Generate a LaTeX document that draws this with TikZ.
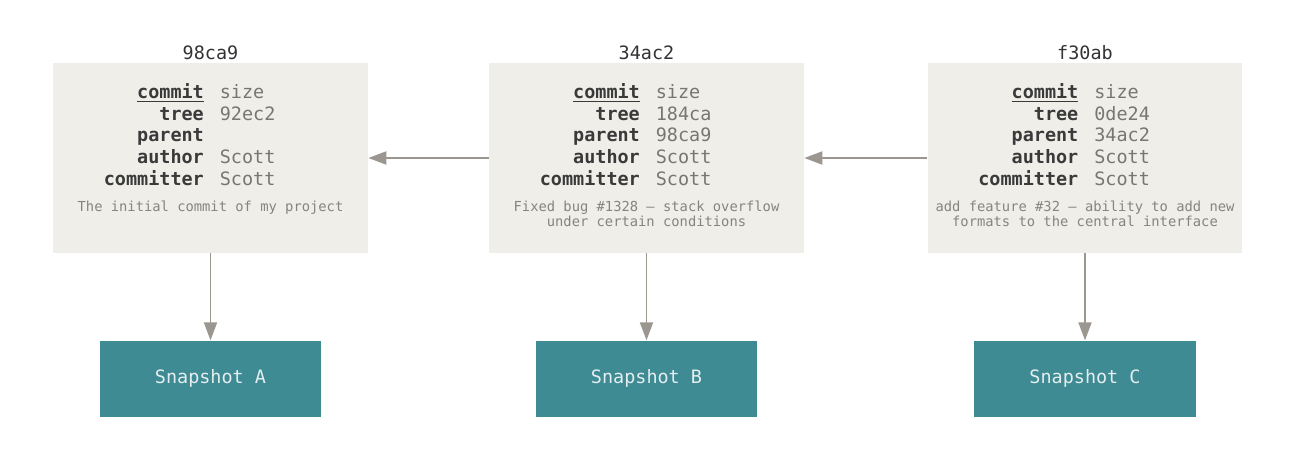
\documentclass[tikz,border=0pt]{standalone}
\usepackage{fontspec}
\setmainfont{DejaVu Sans Mono}
\usepackage{array}
\usetikzlibrary{positioning,arrows.meta}

\definecolor{boxfill}{RGB}{239,238,233}
\definecolor{snapfill}{RGB}{62,139,147}
\definecolor{snaptext}{RGB}{228,238,240}
\definecolor{arrowcol}{RGB}{155,150,144}
\definecolor{keycol}{RGB}{58,58,58}
\definecolor{valcol}{RGB}{120,118,112}
\definecolor{msgcol}{RGB}{135,132,126}
\definecolor{hashcol}{RGB}{51,51,51}

\newcolumntype{K}{>{\bfseries\color{keycol}}r}
\newcolumntype{V}{>{\color{valcol}}l}

\begin{document}
\begin{tikzpicture}[
    x=0.02cm, y=-0.02cm,
    commitbox/.style={fill=boxfill, minimum width=6.3cm, minimum height=3.8cm, inner sep=0pt},
    snapbox/.style={fill=snapfill, text=snaptext, minimum width=4.44cm, minimum height=1.52cm,
        inner sep=0pt, font=\fontsize{10.5}{12.3}\selectfont},
    hashlabel/.style={text=hashcol, inner sep=0pt, font=\fontsize{10.5}{12.3}\selectfont},
    fields/.style={inner sep=0pt, anchor=west, font=\fontsize{10.5}{12.4}\selectfont},
    message/.style={text=msgcol, inner sep=0pt, anchor=north, align=center,
        font=\fontsize{7.85}{8.5}\selectfont},
    link/.style={draw=arrowcol, line width=1.1pt, -{Triangle[length=0.36cm,width=0.26cm]}}
]
\useasboundingbox (0,0) rectangle (1308,474);

% Commits
\node[commitbox] (c1) at (210.5,158) {};
\node[commitbox] (c2) at (646.5,158) {};
\node[commitbox] (c3) at (1085,158) {};

% Hashes above the commits
\node[hashlabel, above=0.06cm of c1] (h1) {98ca9};
\node[hashlabel, above=0.06cm of c2] (h2) {34ac2};
\node[hashlabel, above=0.06cm of c3] (h3) {f30ab};

% Fields of each commit
\node[fields] (f1) at ([xshift=-2.14cm,yshift=0.41cm]c1.center)
    {\begin{tabular}{@{}K@{\hspace{0.32cm}}V@{}}
     \underline{commit} & size\\ tree & 92ec2\\ parent & \\ author & Scott\\ committer & Scott
     \end{tabular}};
\node[fields] (f2) at ([xshift=-2.14cm,yshift=0.41cm]c2.center)
    {\begin{tabular}{@{}K@{\hspace{0.32cm}}V@{}}
     \underline{commit} & size\\ tree & 184ca\\ parent & 98ca9\\ author & Scott\\ committer & Scott
     \end{tabular}};
\node[fields] (f3) at ([xshift=-2.14cm,yshift=0.41cm]c3.center)
    {\begin{tabular}{@{}K@{\hspace{0.32cm}}V@{}}
     \underline{commit} & size\\ tree & 0de24\\ parent & 34ac2\\ author & Scott\\ committer & Scott
     \end{tabular}};

% Commit messages
\node[message] (m1) at ([yshift=-0.86cm]c1.center) {The initial commit of my project};
\node[message] (m2) at ([yshift=-0.86cm]c2.center) {Fixed bug \#1328 – stack overflow\\under certain conditions};
\node[message] (m3) at ([yshift=-0.86cm]c3.center) {add feature \#32 – ability to add new\\formats to the central interface};

% Snapshots
\node[snapbox, below=1.74cm of c1] (s1) {Snapshot A};
\node[snapbox, below=1.74cm of c2] (s2) {Snapshot B};
\node[snapbox, below=1.74cm of c3] (s3) {Snapshot C};

% Parent links
\draw[link] (c2) -- (c1);
\draw[link] (c3) -- (c2);

% Tree links
\draw[link] (c1) -- (s1);
\draw[link] (c2) -- (s2);
\draw[link] (c3) -- (s3);

\end{tikzpicture}
\end{document}
